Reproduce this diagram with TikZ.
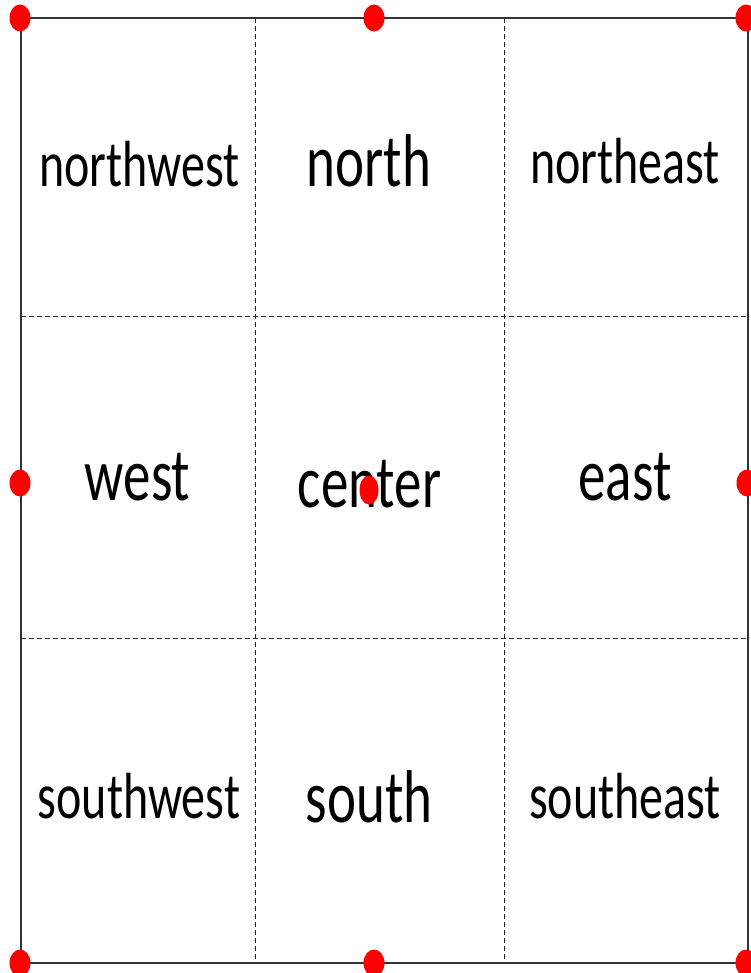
\documentclass[tikz,border=0pt]{standalone}
\usepackage{fontspec}
\setmainfont{Carlito}
\tikzset{
  frame/.style={draw=black!80, line width=1.2pt},
  gridline/.style={draw=black!85, line width=1pt, dash pattern=on 5pt off 3pt},
  lbl/.style={anchor=base, inner sep=0pt, text=black},
  dotmark/.style={fill=red, draw=none},
}
\newcommand{\tallword}[2]{\fontsize{#1}{#1}\selectfont\scalebox{1}[1.36]{#2}}
\begin{document}
\begin{tikzpicture}[x=1pt,y=-1pt]
\useasboundingbox (0,0) rectangle (751,973);
% frame corners
\coordinate (tl) at (21,18);
\coordinate (br) at (748,963);
\draw[frame] (tl) rectangle (br);
% grid
\coordinate (v1t) at (255,18);  \coordinate (v1b) at (255,963);
\coordinate (v2t) at (504,18);  \coordinate (v2b) at (504,963);
\coordinate (h1l) at (21,316);  \coordinate (h1r) at (748,316);
\coordinate (h2l) at (21,638);  \coordinate (h2r) at (748,638);
\draw[gridline] (v1t) -- (v1b);
\draw[gridline] (v2t) -- (v2b);
\draw[gridline] (h1l) -- (h1r);
\draw[gridline] (h2l) -- (h2r);
% labels
\node[lbl] (nw) at (139.5,187) {\tallword{48}{northwest}};
\node[lbl] (n)  at (369,187)   {\tallword{55}{north}};
\node[lbl] (ne) at (625,184)   {\tallword{48}{northeast}};
\node[lbl] (w)  at (137.5,500) {\tallword{55}{west}};
\node[lbl] (c)  at (369.5,507) {\tallword{55}{center}};
\node[lbl] (e)  at (625,500)   {\tallword{55}{east}};
\node[lbl] (sw) at (139,818)   {\tallword{48}{southwest}};
\node[lbl] (s)  at (369,822)   {\tallword{55}{south}};
\node[lbl] (se) at (625,818)   {\tallword{48}{southeast}};
% anchor dots
\coordinate (dnw) at (20,18);   \coordinate (dn) at (374,18);   \coordinate (dne) at (746,18);
\coordinate (dw)  at (20,483);  \coordinate (de) at (747,483);
\coordinate (dsw) at (20,963);  \coordinate (ds) at (374,963);  \coordinate (dse) at (746,963);
\coordinate (dc)  at (369,490);
\foreach \p in {dnw,dn,dne,dw,de,dsw,ds,dse}
  \fill[dotmark] (\p) ellipse [x radius=10.5, y radius=13.5];
\fill[dotmark] (dc) ellipse [x radius=9.5, y radius=14.5];
\end{tikzpicture}
\end{document}
